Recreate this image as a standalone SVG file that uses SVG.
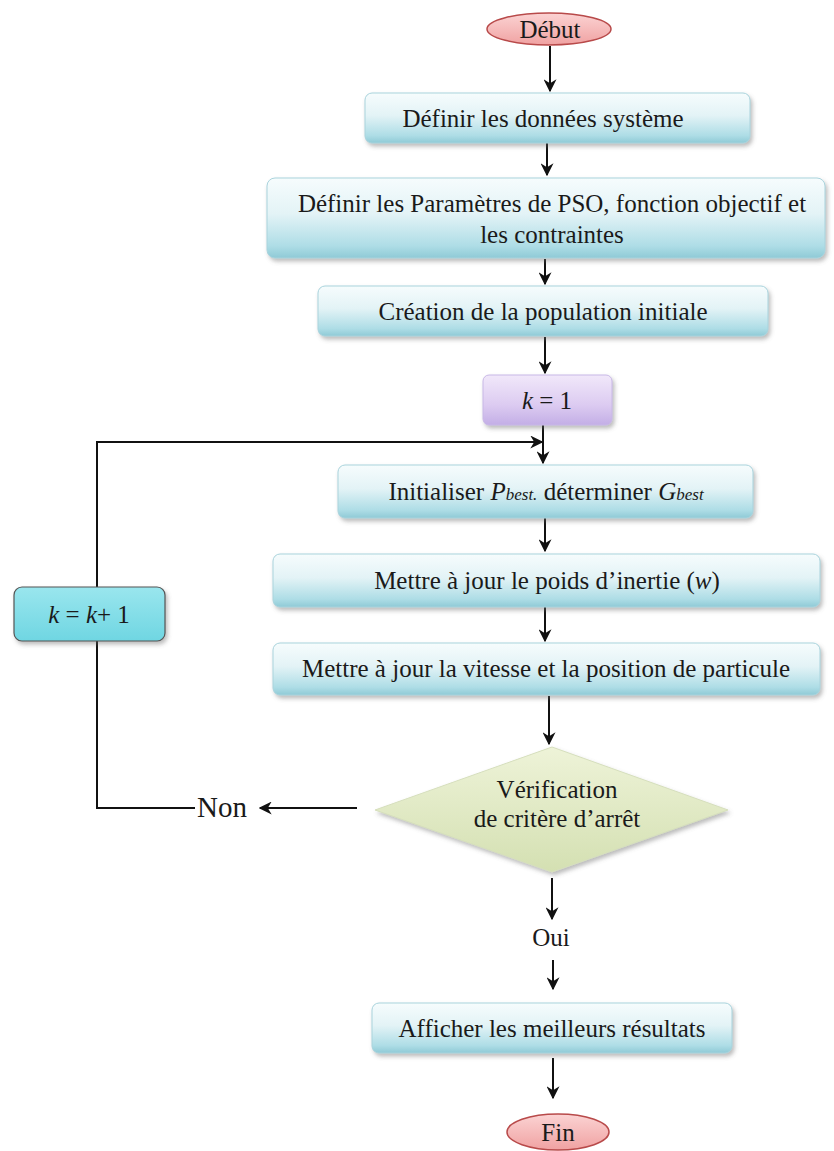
<svg xmlns="http://www.w3.org/2000/svg" width="834" height="1151" viewBox="0 0 834 1151" font-family="Liberation Serif, Tinos, Times New Roman, Noto Serif, serif">
  <style>
    text { font-size: 25px; fill: #1a1a1a; text-anchor: middle; }
    .box { fill: url(#gBlue); stroke: #a9d3dc; stroke-width: 1; filter: url(#shadow); }
    .edge { stroke: #111; stroke-width: 2; fill: none; }
    .arr { marker-end: url(#head); }
    .sub { font-style: italic; font-size: 17px; }
  </style>
  <defs>
    <linearGradient id="gBlue" x1="0" y1="0" x2="0" y2="1">
      <stop offset="0" stop-color="#f6fcfd"/>
      <stop offset="0.45" stop-color="#e3f3f6"/>
      <stop offset="0.85" stop-color="#aedde6"/>
      <stop offset="1" stop-color="#8fcad6"/>
    </linearGradient>
    <linearGradient id="gPurple" x1="0" y1="0" x2="0" y2="1">
      <stop offset="0" stop-color="#f1e8fa"/>
      <stop offset="0.6" stop-color="#dccbf1"/>
      <stop offset="1" stop-color="#c3aee6"/>
    </linearGradient>
    <linearGradient id="gCyan" x1="0" y1="0" x2="0" y2="1">
      <stop offset="0" stop-color="#9ae6ee"/>
      <stop offset="1" stop-color="#6fd6e2"/>
    </linearGradient>
    <linearGradient id="gGreen" x1="0" y1="0" x2="0" y2="1">
      <stop offset="0" stop-color="#eef3d8"/>
      <stop offset="1" stop-color="#d4e0b2"/>
    </linearGradient>
    <linearGradient id="gPink" x1="0" y1="0" x2="0" y2="1">
      <stop offset="0" stop-color="#fbd3d3"/>
      <stop offset="1" stop-color="#f0a2a2"/>
    </linearGradient>
    <filter id="shadow" x="-5%" y="-20%" width="110%" height="150%">
      <feDropShadow dx="2" dy="3" stdDeviation="2" flood-color="#6a6a6a" flood-opacity="0.45"/>
    </filter>
    <marker id="head" viewBox="0 0 10 10" refX="9" refY="5" markerWidth="13" markerHeight="13" markerUnits="userSpaceOnUse" orient="auto">
      <path d="M0,0 L10,5 L0,10 L3,5 z" fill="#111"/>
    </marker>
  </defs>

  <!-- connectors -->
  <g id="connectors">
    <line class="edge arr" x1="550" y1="46" x2="550" y2="91"/>
    <line class="edge arr" x1="547" y1="143" x2="547" y2="175"/>
    <line class="edge arr" x1="545" y1="259" x2="545" y2="284"/>
    <line class="edge arr" x1="545" y1="337" x2="545" y2="373"/>
    <line class="edge arr" x1="543" y1="425" x2="543" y2="463"/>
    <polyline class="edge arr" points="195,808 97,808 97,442 542,442"/>
    <line class="edge arr" x1="545" y1="518" x2="545" y2="551"/>
    <line class="edge arr" x1="545" y1="607" x2="545" y2="641"/>
    <line class="edge arr" x1="549" y1="696" x2="549" y2="744"/>
    <line class="edge arr" x1="357" y1="808" x2="260" y2="808"/>
    <line class="edge arr" x1="552" y1="878" x2="552" y2="919"/>
    <line class="edge arr" x1="553" y1="960" x2="553" y2="989"/>
    <line class="edge arr" x1="553" y1="1058" x2="553" y2="1098"/>
    <text x="222" y="817" style="font-size:29px">Non</text>
    <text x="551" y="946">Oui</text>
  </g>

  <g id="debut">
    <ellipse cx="549" cy="29" rx="62" ry="16" fill="url(#gPink)" stroke="#b84a4a" stroke-width="1.5"/>
    <text x="550" y="38">Début</text>
  </g>

  <g id="donnees">
    <rect class="box" x="365" y="93" width="385" height="50" rx="7"/>
    <text x="543" y="127">Définir les données système</text>
  </g>

  <g id="parametres">
    <rect class="box" x="267" y="178" width="558" height="80" rx="8"/>
    <text x="552" y="212">Définir les Paramètres de PSO, fonction objectif et</text>
    <text x="552" y="243">les contraintes</text>
  </g>

  <g id="population">
    <rect class="box" x="318" y="286" width="450" height="50" rx="7"/>
    <text x="543" y="320">Création de la population initiale</text>
  </g>

  <g id="k-init">
    <rect x="483" y="375" width="129" height="50" rx="6" fill="url(#gPurple)" stroke="#c8b8e6" stroke-width="1" filter="url(#shadow)"/>
    <text x="547" y="409"><tspan font-style="italic">k</tspan> = 1</text>
  </g>

  <g id="initialiser">
    <rect class="box" x="338" y="465" width="415" height="53" rx="7"/>
    <text x="546" y="500">Initialiser <tspan font-style="italic">P</tspan><tspan class="sub">best.</tspan> déterminer <tspan font-style="italic">G</tspan><tspan class="sub">best</tspan></text>
  </g>

  <g id="poids">
    <rect class="box" x="273" y="554" width="547" height="53" rx="7"/>
    <text x="547" y="589">Mettre à jour le poids d’inertie (<tspan font-style="italic">w</tspan>)</text>
  </g>

  <g id="vitesse">
    <rect class="box" x="273" y="643" width="547" height="52" rx="7"/>
    <text x="546" y="677">Mettre à jour la vitesse et la position de particule</text>
  </g>

  <g id="verification">
    <polygon points="375,810 552,747 728,810 552,872" fill="url(#gGreen)" stroke="#d6dfbd" stroke-width="1" filter="url(#shadow)"/>
    <text x="557" y="798">Vérification</text>
    <text x="557" y="827">de critère d’arrêt</text>
  </g>

  <g id="k-incr">
    <rect x="14" y="587" width="151" height="54" rx="8" fill="url(#gCyan)" stroke="#555" stroke-width="1.2" filter="url(#shadow)"/>
    <text x="89" y="623"><tspan font-style="italic">k</tspan> = <tspan font-style="italic">k</tspan>+ 1</text>
  </g>

  <g id="resultats">
    <rect class="box" x="372" y="1003" width="360" height="50" rx="7"/>
    <text x="552" y="1037">Afficher les meilleurs résultats</text>
  </g>

  <g id="fin">
    <ellipse cx="558" cy="1132" rx="51" ry="18" fill="url(#gPink)" stroke="#b84a4a" stroke-width="1.5"/>
    <text x="558" y="1141">Fin</text>
  </g>
</svg>
